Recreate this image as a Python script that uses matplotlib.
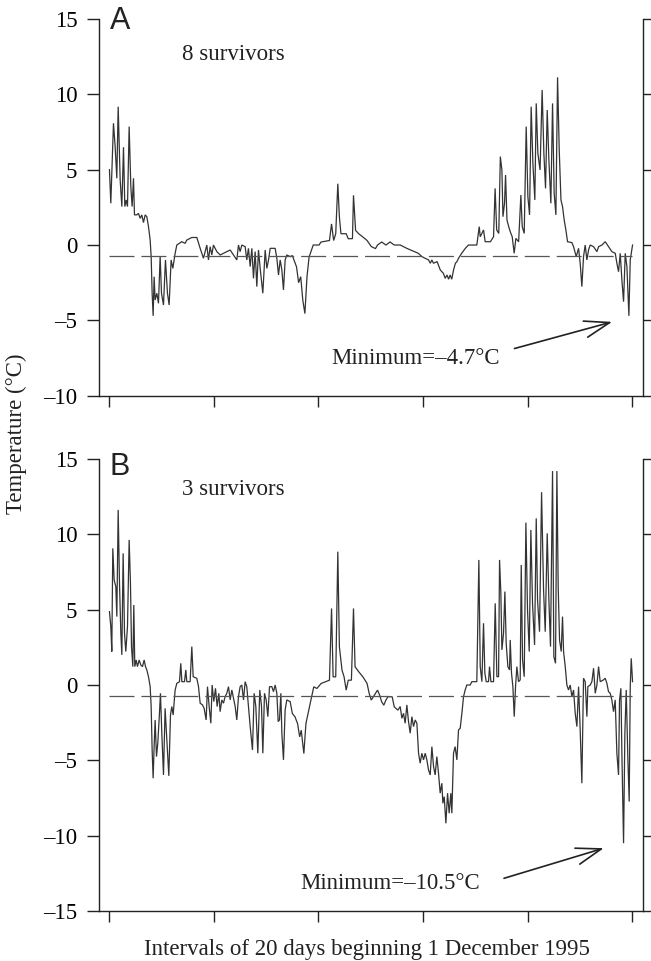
import matplotlib
matplotlib.use("Agg")
import matplotlib.pyplot as plt

plt.rcParams['font.family'] = ['Liberation Serif', 'DejaVu Serif']
plt.rcParams['lines.scale_dashes'] = False

# ---------------- data (days since 1 Dec 1995, temperature in °C) ----------------
days_A = [0.0, 0.26, 0.77, 1.09, 1.41, 1.67, 2.05, 2.37, 2.69, 2.94, 3.2, 3.45, 3.77, 4.09, 4.34, 4.6,
          4.79, 5.24, 5.56, 5.88, 6.19, 6.51, 6.83, 7.15, 7.47, 7.79, 7.98, 8.17, 8.36, 8.55, 8.74, 9.07,
          9.38, 9.7, 9.96, 10.34, 10.72, 11.1, 11.42, 11.8, 12.13, 12.57, 12.89, 13.85, 14.48, 14.8, 15.76,
          16.72, 17.36, 17.99, 18.31, 18.63, 18.95, 19.27, 19.59, 19.9, 20.55, 21.19, 21.82, 23.1, 24.37,
          24.69, 25.01, 25.33, 25.97, 26.28, 26.6, 26.93, 27.25, 27.56, 27.88, 28.2, 28.52, 28.84, 29.35,
          29.8, 30.12, 30.44, 30.76, 31.71, 32.03, 32.35, 32.67, 32.99, 33.3, 33.62, 33.94, 34.58, 35.0,
          35.8, 36.2, 36.6, 37.0, 37.4, 37.8, 38.2, 39.0, 40.1, 40.5, 42.1, 42.5, 42.9, 43.3, 43.7, 44.0,
          44.3, 45.3, 45.7, 46.5, 46.7, 47.1, 47.7, 48.5, 49.3, 50.1, 50.9, 51.3, 52.1, 52.9, 53.7, 54.5,
          55.64, 56.9, 59.1, 59.8, 60.4, 61.06, 61.4, 61.7, 62.0, 62.7, 63.3, 63.9, 64.25, 64.6, 64.9, 65.2,
          65.5, 65.85, 66.2, 66.5, 66.8, 67.4, 68.1, 68.7, 70.3, 70.76, 70.95, 71.27, 71.58, 71.9, 72.9,
          73.5, 73.8, 74.1, 74.5, 74.8, 75.1, 75.3, 75.6, 75.8, 76.07, 76.4, 76.7, 77.07, 77.45, 77.77,
          78.3, 78.73, 78.99, 79.37, 79.75, 80.07, 80.39, 80.7, 81.03, 81.4, 81.67, 81.98, 82.4, 82.8,
          83.13, 83.45, 83.77, 84.09, 84.47, 84.79, 85.1, 85.43, 85.75, 86.07, 86.4, 86.7, 87.02, 87.34,
          87.66, 88.49, 88.81, 89.32, 89.77, 90.08, 90.4, 90.72, 91.04, 91.36, 91.68, 92.0, 92.64, 93.28,
          93.6, 94.24, 94.87, 95.51, 96.15, 96.79, 97.1, 97.42, 97.74, 98.06, 98.38, 98.7, 99.02, 99.4,
          99.66, 100.1]
temp_A = [5.0, 2.77, 8.08, 6.53, 4.43, 9.18, 4.32, 2.55, 6.49, 2.55, 2.99, 2.55, 7.86, 3.87, 2.55, 4.43,
          2.0, 2.0, 2.1, 1.77, 2.0, 1.49, 2.0, 1.88, 1.22, 0.33, -0.77, -3.2, -4.7, -2.1, -3.65, -3.2,
          -3.87, -0.77, -3.2, -3.98, -0.99, -3.2, -3.98, -0.99, -1.55, -0.55, 0.0, 0.22, 0.11, 0.33, 0.5,
          0.5, -0.22, -0.88, -0.44, 0.0, -0.99, -0.11, -0.66, 0.0, -0.44, -0.66, -0.55, -0.33, -0.99,
          0.0, -0.44, 0.0, -0.11, -0.99, -0.22, -1.43, -0.22, -2.21, -0.44, -2.76, -0.33, -1.55, -3.2,
          -0.33, -1.55, -0.99, -0.22, -0.22, -0.88, -1.99, -0.99, -1.65, -2.98, -0.99, -0.66, -0.77, -0.7,
          -1.45, -2.5, -2.1, -3.66, -4.55, -2.1, -0.8, 0.0, 0.0, 0.2, 0.3, 1.4, 0.3, 0.75, 4.07, 1.86,
          0.75, 0.75, 0.42, 0.42, 3.3, 0.97, 0.75, 0.53, 0.3, -0.1, -0.24, 0.0, 0.2, 0.0, 0.2, 0.0,
          0.0, -0.22, -0.55, -0.77, -0.88, -0.99, -1.21, -0.99, -1.21, -1.1, -1.65, -1.88, -2.21, -1.99, -2.27, -1.99,
          -2.27, -1.65, -1.21, -1.1, -0.88, -0.55, -0.22, 0.0, 0.0, 1.22, 0.55, 0.77, 1.0, 0.22, 0.22,
          0.55, 3.76, 1.0, 0.77, 5.87, 4.98, 1.88, 2.77, 4.65, 1.66, 1.22, 0.88, 0.55, -0.55, 0.44,
          0.22, 3.32, 1.22, 0.77, 7.86, 3.21, 2.0, 9.18, 5.42, 2.99, 9.4, 6.09, 4.98, 10.29,
          6.09, 3.76, 8.96, 5.64, 2.77, 9.4, 3.43, 2.0, 11.13, 6.31, 2.99, 2.55, 1.66, 1.0,
          0.22, 0.16, -0.11, -0.77, -0.22, -1.21, -2.76, -0.77, 0.0, -0.99, -0.33, 0.0, -0.11, -0.44,
          -0.11, 0.0, 0.22, -0.11, -0.44, -0.55, -1.21, -1.77, -0.55, -2.32, -3.76, -0.55, -1.43, -4.7,
          -0.99, 0.0]

days_B = [0.0, 0.26, 0.45, 0.64, 0.9, 1.22, 1.41, 1.67, 1.92, 2.18, 2.37, 2.62, 2.88, 3.13, 3.45, 3.77,
          4.02, 4.22, 4.47, 4.66, 4.85, 5.11, 5.36, 5.68, 6.0, 6.32, 6.64, 6.9, 7.15, 7.47, 7.79, 7.98,
          8.17, 8.36, 8.55, 8.74, 9.0, 9.25, 9.57, 9.76, 10.02, 10.34, 10.65, 10.98, 11.36, 11.68, 11.93,
          12.19, 12.57, 12.89, 13.4, 13.65, 13.85, 14.36, 14.61, 14.8, 15.44, 15.76, 16.02, 16.72, 17.04,
          17.36, 17.8, 18.12, 18.5, 18.76, 19.08, 19.4, 19.65, 19.97, 20.29, 20.61, 20.93, 21.18, 21.5,
          21.82, 22.14, 22.46, 22.78, 23.1, 23.42, 23.74, 24.06, 24.37, 24.69, 25.01, 25.33, 25.65, 25.97,
          26.28, 26.6, 26.93, 27.37, 27.69, 28.01, 28.39, 28.77, 29.1, 29.35, 29.67, 29.99, 30.31, 30.63,
          31.07, 31.39, 31.71, 32.03, 32.29, 32.54, 32.8, 32.99, 33.3, 33.62, 33.94, 34.58, 35.0, 35.5,
          36.0, 36.4, 36.7, 37.2, 37.6, 38.0, 38.55, 39.1, 39.7, 40.5, 41.3, 42.1, 42.5, 42.8, 43.3, 43.7,
          44.0, 44.5, 44.9, 45.3, 45.7, 46.3, 46.7, 47.0, 47.7, 48.5, 49.3, 49.7, 50.1, 50.5, 50.9, 51.3,
          51.7, 52.1, 52.5, 52.9, 53.3, 54.1, 54.5, 55.2, 55.64, 55.96, 56.27, 56.59, 56.91, 57.23, 57.55,
          57.87, 58.19, 58.51, 58.83, 59.15, 59.46, 59.78, 60.1, 60.42, 60.74, 61.06, 61.38, 61.7, 62.02,
          62.33, 62.65, 62.97, 63.29, 63.61, 63.8, 64.06, 64.38, 64.7, 65.01, 65.33, 65.52, 65.84, 66.15,
          66.48, 66.8, 67.12, 67.44, 67.76, 68.07, 68.39, 69.03, 69.35, 70.3, 70.69, 70.95, 71.27, 71.58,
          71.84, 72.1, 72.54, 72.73, 72.99, 73.5, 73.82, 74.14, 74.46, 74.65, 74.9, 75.1, 75.41, 75.67,
          75.92, 76.24, 76.56, 76.69, 76.94, 77.2, 77.46, 77.71, 77.96, 78.28, 78.6, 78.8, 79.05, 79.37,
          79.69, 80.0, 80.33, 80.64, 80.96, 81.35, 81.67, 81.92, 82.3, 82.69, 83.07, 83.39, 83.77, 84.09,
          84.4, 84.79, 85.04, 85.36, 85.62, 85.87, 86.13, 86.45, 86.7, 86.9, 87.22, 87.53, 87.85, 88.17,
          88.49, 88.81, 89.13, 89.45, 89.77, 90.08, 90.4, 90.72, 91.04, 91.36, 91.55, 92.0, 92.32, 92.64,
          92.96, 93.28, 93.6, 93.91, 94.55, 94.87, 95.19, 95.5, 95.82, 96.14, 96.46, 96.78, 97.1, 97.42,
          97.61, 97.87, 98.06, 98.38, 98.63, 98.89, 99.21, 99.46, 99.66, 99.85, 100.1]
temp_B = [4.87, 3.87, 2.22, 9.07, 6.97, 6.53, 4.54, 11.62, 6.75, 3.43, 2.0, 8.74, 3.43, 2.22, 3.87, 9.63,
          6.75, 2.55, 1.22, 5.31, 1.22, 1.66, 1.22, 1.66, 1.33, 1.22, 1.66, 1.22, 1.0, 0.55, -0.11, -1.43,
          -4.31, -6.19, -4.09, -2.32, -4.75, -3.87, -1.88, -0.55, -3.2, -5.97, -1.55, -3.65, -6.03, -1.99, -1.43,
          -1.99, -0.33, 0.11, 0.22, 1.44, 0.22, 0.22, 1.0, 0.22, 0.22, 2.55, 0.55, 0.44, -0.11,
          -1.21, -1.32, -1.55, -2.32, -0.11, -1.43, -2.54, 0.0, -1.1, -0.22, -1.43, -0.55, -1.77, -0.99,
          -1.21, -0.77, -0.55, -0.11, -0.99, -0.33, -0.88, -1.43, -2.32, -0.77, -0.11, 0.0, -0.99, 0.22,
          -0.11, -1.43, -2.76, -4.31, -0.55, -1.43, -4.53, -0.33, -1.43, -4.53, -0.55, -0.99, -2.1, -0.11,
          -0.11, -0.44, 0.0, -0.55, -2.43, -2.32, -0.55, -3.2, -4.97, -1.65, -0.99, -1.1, -1.89, -2.11,
          -2.56, -3.44, -3.0, -4.55, -2.56, -1.89, -1.0, -0.12, -0.23, 0.1, 0.21, 0.32, 5.08, 0.54, 0.54, 8.85,
          2.54, 0.99, 0.54, -0.34, 0.32, 0.32, 5.08, 1.21, 0.88, 0.54, 0.1, -0.56, -1.0, -0.78, -0.56, -0.34,
          -0.67, -1.12, -1.34, -1.0, -0.78, -0.78, -1.45, -1.67, -1.43, -2.21, -1.88, -2.54, -1.32, -2.43, -3.2,
          -2.1, -2.76, -2.32, -2.54, -4.53, -5.19, -4.53, -4.97, -4.53, -4.97, -5.64, -5.97, -4.09, -5.41,
          -5.97, -4.75, -5.86, -7.18, -6.52, -7.85, -7.41, -9.18, -7.18, -8.51, -7.18, -8.51, -4.53, -4.09,
          -4.97, -2.98, -2.87, -1.88, -0.77, -0.33, 0.0, 0.0, 0.22, 0.22, 8.3, 1.22, 0.22, 4.1,
          0.78, 0.22, 0.22, 1.22, 0.22, 0.22, 5.42, 0.55, 0.55, 8.3, 6.09, 2.33, 3.43, 6.2,
          2.77, 1.22, 1.0, 2.99, 0.78, -0.11, -2.1, -0.11, 1.22, 0.22, 0.34, 7.97, 1.66, 0.55,
          10.78, 4.98, 2.22, 10.29, 5.42, 2.66, 11.06, 5.64, 3.54, 12.8, 6.31, 3.54, 10.07, 5.64,
          2.55, 14.2, 1.88, 1.44, 14.2, 6.53, 2.99, 2.22, 4.54, 2.22, 1.22, 0.0, -0.33, 0.0,
          -0.77, -0.33, -1.88, -2.76, -0.11, -2.98, -6.52, 0.45, 0.22, -2.1, -0.11, 0.0, 0.22, 1.11,
          -0.55, 0.0, 1.22, 0.22, 0.34, 0.45, 0.11, -0.44, -0.55, -0.99, -1.77, -0.99, -4.53, -5.97,
          -0.99, -0.22, -4.53, -10.5, -3.2, -0.33, -4.97, -7.74, -0.11, 1.77, 0.22]

reference_level = -0.7
x_ticks = [0, 20, 40, 60, 80, 100]
y_ticks_A = [15, 10, 5, 0, -5, -10]
y_ticks_B = [15, 10, 5, 0, -5, -10, -15]
panel_labels = ['A', 'B']
survivor_texts = ['8 survivors', '3 survivors']
minimum_texts = ['Minimum=\u20134.7\u00b0C', 'Minimum=\u201310.5\u00b0C']
x_label = 'Intervals of 20 days beginning 1 December 1995'
y_label = 'Temperature (\u00b0C)'

# ---------------- figure ----------------
W, H = 651, 961
fig = plt.figure(figsize=(W / 100, H / 100), dpi=100)
axA = fig.add_axes([99 / W, 1 - 395.7 / H, 544 / W, (395.7 - 19) / H])
axB = fig.add_axes([99 / W, 1 - 911 / H, 544 / W, (911 - 459) / H])

dark = '#222222'
fs = 16.5

def fmt(v):
    return ('\u2013' + str(abs(v))) if v < 0 else str(v)

for ax, d, t, yt, ylim in [(axA, days_A, temp_A, y_ticks_A, (-10, 15)),
                           (axB, days_B, temp_B, y_ticks_B, (-15, 15))]:
    ax.plot(d, t, color='#333333', lw=0.9, solid_joinstyle='miter')
    ax.plot([0, 100], [reference_level, reference_level], color='#555555', lw=0.9,
            dashes=(18, 5))
    ax.set_xlim(-2.0, 102.1)
    ax.set_ylim(*ylim)
    ax.set_xticks(x_ticks)
    ax.set_xticklabels([])
    ax.set_yticks(yt)
    ax.set_yticklabels([fmt(v) for v in yt], fontsize=fs)
    ax.spines['top'].set_visible(False)
    for s in ['left', 'right', 'bottom']:
        ax.spines[s].set_color(dark)
        ax.spines[s].set_linewidth(1.0)
    ax.tick_params(axis='y', which='both', left=True, right=True, direction='out',
                   length=8.6, width=1.0, color=dark, pad=7, labelright=False)
    ax.tick_params(axis='x', direction='out', length=8, width=1.0, color=dark)

axA.text(0.1, 14.32, panel_labels[0], fontsize=22, family=['Liberation Sans', 'DejaVu Sans'],
         ha='left', va='baseline', color=dark)
axB.text(0.1, 13.94, panel_labels[1], fontsize=22, family=['Liberation Sans', 'DejaVu Sans'],
         ha='left', va='baseline', color=dark)

axA.text(13.9, 12.29, survivor_texts[0], fontsize=fs, ha='left', va='baseline', color=dark)
axB.text(13.9, 12.6, survivor_texts[1], fontsize=fs, ha='left', va='baseline', color=dark)

axA.text(42.5, -7.89, minimum_texts[0], fontsize=fs, ha='left', va='baseline', color=dark)
axB.text(36.6, -13.55, minimum_texts[1], fontsize=fs, ha='left', va='baseline', color=dark)

arrow_kw = dict(arrowstyle='->,head_length=0.9,head_width=0.3', mutation_scale=20,
                lw=1.2, color=dark, shrinkA=0, shrinkB=0)
axA.annotate('', xy=(96.2, -5.1), xytext=(77.5, -6.87), arrowprops=arrow_kw)
axB.annotate('', xy=(94.6, -10.83), xytext=(75.5, -12.83), arrowprops=arrow_kw)

fig.text(16 / W, 1 - 434 / H, y_label, rotation=90, fontsize=fs, ha='center', va='center',
         color=dark)
fig.text(367 / W, 1 - 955 / H, x_label, fontsize=fs, ha='center', va='baseline', color=dark)

fig.savefig('out.png', dpi=100)
